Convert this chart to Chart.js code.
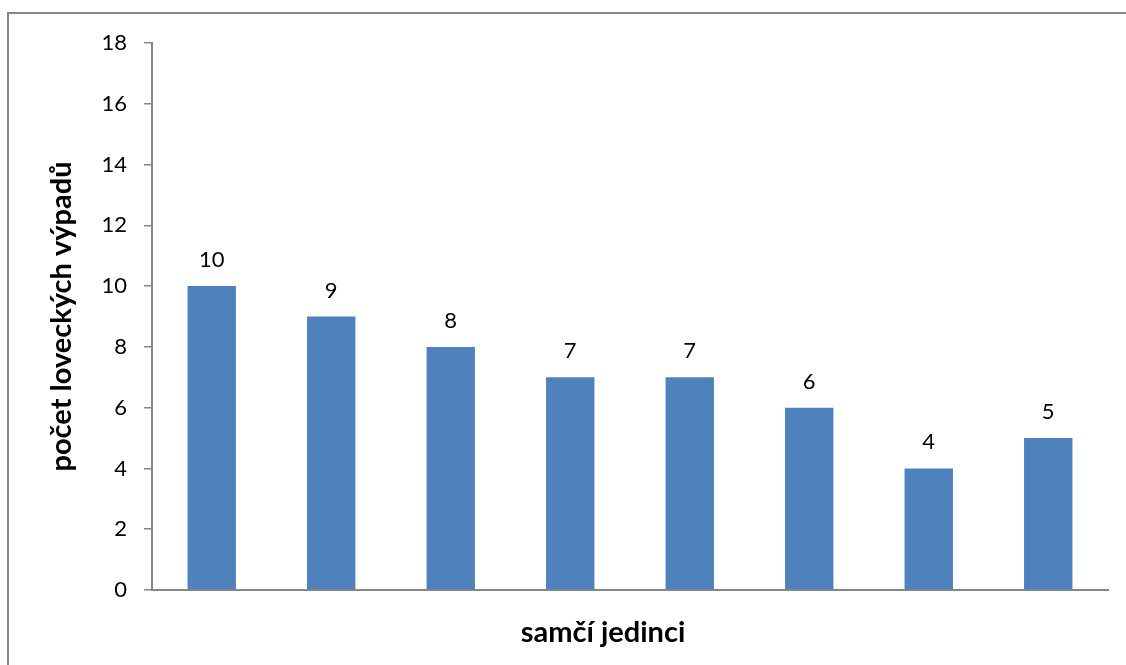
<!DOCTYPE html>
<html>
<head>
<meta charset="utf-8">
<script src="https://cdn.jsdelivr.net/npm/chart.js@4/dist/chart.umd.min.js"></script>
<style>
  html, body { margin: 0; padding: 0; background: #ffffff; }
  #wrap { width: 1126px; height: 665px; position: relative; }
</style>
</head>
<body>
<div id="wrap"><canvas id="chart" width="1126" height="665"></canvas></div>
<script>
// Počet loveckých výpadů jednotlivých samců
const categories = ['1', '2', '3', '4', '5', '6', '7', '8'];
const counts = [10, 9, 8, 7, 7, 6, 4, 5];
const yTicks = [0, 2, 4, 6, 8, 10, 12, 14, 16, 18];
const xTitle = 'samčí jedinci';
const yTitle = 'počet loveckých výpadů';

const FONT = 'Lato, "Open Sans", sans-serif';
const AXIS_GREY = '#868686';

// Outer frame of the chart object
const framePlugin = {
  id: 'frame',
  beforeDraw(chart) {
    const ctx = chart.ctx;
    ctx.save();
    ctx.fillStyle = '#ffffff';
    ctx.fillRect(0, 0, chart.width, chart.height);
    ctx.strokeStyle = AXIS_GREY;
    ctx.lineWidth = 2;
    ctx.strokeRect(8, 13, chart.width + 20, chart.height + 20);
    ctx.restore();
  }
};

// Value labels above each bar, plus the category axis caption
const valueLabels = {
  id: 'valueLabels',
  afterDatasetsDraw(chart) {
    const ctx = chart.ctx;
    const meta = chart.getDatasetMeta(0);
    ctx.save();
    ctx.fillStyle = '#000000';
    ctx.font = '22px ' + FONT;
    ctx.textAlign = 'center';
    ctx.textBaseline = 'alphabetic';
    meta.data.forEach((bar, i) => {
      ctx.fillText(String(counts[i]), bar.x, bar.y - 19);
    });

    const area = chart.chartArea;
    ctx.font = 'bold 29px ' + FONT;
    ctx.textBaseline = 'middle';
    ctx.fillText(xTitle, (area.left + area.right) / 2 - 27, 633);
    ctx.restore();
  }
};

new Chart(document.getElementById('chart'), {
  type: 'bar',
  data: {
    labels: categories,
    datasets: [{
      data: counts,
      backgroundColor: '#4F81BD',
      borderWidth: 0,
      categoryPercentage: 1,
      barPercentage: 0.405
    }]
  },
  options: {
    responsive: false,
    animation: false,
    layout: { padding: { left: 0, right: 18, top: 43, bottom: 0 } },
    plugins: {
      legend: { display: false },
      tooltip: { enabled: false }
    },
    scales: {
      x: {
        grid: { display: false },
        border: { display: true, color: AXIS_GREY, width: 2 },
        ticks: { display: false },
        title: { display: false },
        afterFit(scale) { scale.height = 75; }
      },
      y: {
        min: 0,
        max: 18,
        afterBuildTicks(scale) { scale.ticks = yTicks.map(v => ({ value: v })); },
        grid: {
          drawOnChartArea: false,
          drawTicks: true,
          tickLength: 8,
          color: AXIS_GREY,
          lineWidth: 1.5
        },
        border: { display: true, color: AXIS_GREY, width: 2 },
        ticks: {
          color: '#000000',
          padding: 17,
          font: { family: FONT, size: 22 }
        },
        title: {
          display: true,
          text: yTitle,
          color: '#000000',
          font: { family: FONT, size: 29, weight: 'bold' },
          padding: { top: 44, bottom: 0 }
        },
        afterFit(scale) { scale.width = 152; }
      }
    }
  },
  plugins: [framePlugin, valueLabels]
});
</script>
</body>
</html>
